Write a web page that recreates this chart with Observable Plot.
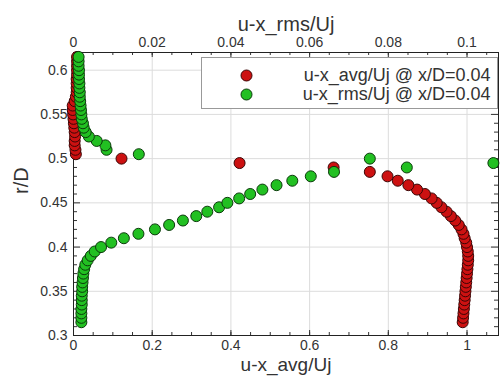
<!DOCTYPE html>
<html>
<head>
<meta charset="utf-8">
<script src="https://cdn.jsdelivr.net/npm/d3@7"></script>
<script src="https://cdn.jsdelivr.net/npm/@observablehq/plot@0.6"></script>
<style>
  html, body { margin: 0; padding: 0; background: #fff; }
  #chart { width: 500px; height: 376px; }
</style>
</head>
<body>
<div id="chart"></div>
<script>
// ---- data ----
const rD = [0.315,0.32,0.325,0.33,0.335,0.34,0.345,0.35,0.355,0.36,0.365,0.37,0.375,0.38,0.385,0.39,0.395,0.40,0.405,0.41,0.415,0.42,0.425,0.43,0.435,0.44,0.445,0.45,0.455,0.46,0.465,0.47,0.475,0.48,0.485,0.49,0.495,0.50,0.505,0.51,0.515,0.52,0.525,0.53,0.535,0.54,0.545,0.55,0.555,0.56,0.565,0.57,0.575,0.58,0.585,0.59,0.595,0.60,0.605,0.61,0.615];
const uxAvg = [0.989,0.990,0.991,0.992,0.993,0.994,0.995,0.996,0.997,0.998,0.999,1.000,1.001,1.002,1.003,1.003,1.002,1.000,0.998,0.994,0.991,0.986,0.979,0.970,0.959,0.948,0.935,0.923,0.910,0.893,0.873,0.851,0.824,0.798,0.753,0.661,0.422,0.122,0.006,0.005,0.003,0.003,0.004,0.003,0.002,0.001,0.000,-0.001,-0.002,-0.002,0.003,0.006,0.008,0.008,0.008,0.008,0.009,0.009,0.009,0.009,0.009];
const uxRms = [0.0020,0.0020,0.0020,0.0020,0.0021,0.0021,0.0021,0.0022,0.0022,0.0023,0.0024,0.0025,0.0027,0.0030,0.0036,0.0044,0.0054,0.0070,0.0096,0.0128,0.0165,0.0207,0.0243,0.0278,0.0312,0.0340,0.0370,0.0391,0.0421,0.0449,0.0480,0.0516,0.0556,0.0603,0.0662,0.0847,0.1067,0.0753,0.0166,0.0084,0.0081,0.0059,0.0039,0.0031,0.0026,0.0024,0.0021,0.0020,0.0019,0.0018,0.0017,0.0016,0.0016,0.0015,0.0015,0.0014,0.0014,0.0014,0.0013,0.0013,0.0013];

const avgTicks = [0, 0.2, 0.4, 0.6, 0.8, 1.0];
const avgMinor = [0,0.05,0.1,0.15,0.2,0.25,0.3,0.35,0.4,0.45,0.5,0.55,0.6,0.65,0.7,0.75,0.8,0.85,0.9,0.95,1.0,1.05];
const rmsTicks = [0, 0.02, 0.04, 0.06, 0.08, 0.1];
const rTicks = [0.3, 0.35, 0.4, 0.45, 0.5, 0.55, 0.6];
const rMinor = [0.31,0.32,0.33,0.34,0.36,0.37,0.38,0.39,0.41,0.42,0.43,0.44,0.46,0.47,0.48,0.49,0.51,0.52,0.53,0.54,0.56,0.57,0.58,0.59,0.61];
const xDomain = [0, 1.08];
const yDomain = [0.3, 0.62];
const rmsScale = 10; // top axis (rms) = bottom axis (avg) / 10

const seriesNames = ["u-x_avg/Uj @ x/D=0.04", "u-x_rms/Uj @ x/D=0.04"];
const seriesFill = ["#cc1111", "#22c022"];
const seriesStroke = ["#3a0505", "#0b3a0b"];
const xTitle = "u-x_avg/Uj";
const x2Title = "u-x_rms/Uj";
const yTitle = "r/D";

// ---- layout ----
const W = 500, H = 376;
const mL = 73, mR = 2, mT = 52, mB = 41;
const pw = W - mL - mR, ph = H - mT - mB;
const majorLen = 5, minorLen = 3;
const fmt = d3.format("~g");

const rows = rD.map((r, i) => ({r, avg: uxAvg[i], rms: uxRms[i]}));

const tickCol = "#333";
const marks = [
  Plot.gridX(avgTicks, {stroke: "#dcdcdc", strokeOpacity: 1}),
  Plot.gridY(rTicks, {stroke: "#dcdcdc", strokeOpacity: 1}),
  // inward ticks
  Plot.tickX(avgMinor, {x: d => d, insetTop: ph - minorLen, stroke: tickCol}),
  Plot.tickX(avgTicks, {x: d => d, insetTop: ph - majorLen, stroke: tickCol}),
  Plot.tickX(avgMinor, {x: d => d, insetBottom: ph - minorLen, stroke: tickCol}),
  Plot.tickX(avgTicks, {x: d => d, insetBottom: ph - majorLen, stroke: tickCol}),
  Plot.tickY(rMinor, {y: d => d, insetRight: pw - minorLen - 1, stroke: tickCol}),
  Plot.tickY(rTicks, {y: d => d, insetRight: pw - majorLen - 2, stroke: tickCol}),
  Plot.tickY(rMinor, {y: d => d, insetLeft: pw - minorLen - 1, stroke: tickCol}),
  Plot.tickY(rTicks, {y: d => d, insetLeft: pw - majorLen - 2, stroke: tickCol}),
  Plot.frame({stroke: "#222"}),
  // axes labels
  Plot.axisX(avgTicks, {anchor: "bottom", tickSize: 0, tickPadding: 5, tickFormat: fmt, fontSize: 14, fill: "#333", label: null}),
  Plot.axisX(rmsTicks.map(v => v * rmsScale), {anchor: "top", tickSize: 0, tickPadding: 6, tickFormat: d => fmt(d / rmsScale), fontSize: 14, fill: "#333", label: null}),
  Plot.axisY(rTicks, {anchor: "left", tickSize: 0, tickPadding: 6, tickFormat: fmt, fontSize: 14, fill: "#333", label: null}),
  // series
  Plot.dot(rows, {x: "avg", y: "r", r: 5.5, fill: seriesFill[0], stroke: seriesStroke[0], strokeWidth: 1}),
  Plot.dot(rows, {x: d => d.rms * rmsScale, y: "r", r: 5.5, fill: seriesFill[1], stroke: seriesStroke[1], strokeWidth: 1}),
  // legend box
  Plot.frame({fill: "white", stroke: "#999", insetLeft: 128, insetTop: 5, insetRight: 1, insetBottom: ph - 56}),
  ...seriesNames.flatMap((name, i) => [
    Plot.dot([name], {frameAnchor: "top-left", dx: 173, dy: 23 + i * 19, r: 5.5, fill: seriesFill[i], stroke: seriesStroke[i], strokeWidth: 1}),
    Plot.text([name], {frameAnchor: "top-right", dx: -8, dy: 23 + i * 19, text: d => d, textAnchor: "end", lineAnchor: "middle", fontSize: 18, fill: "#333"})
  ]),
  // axis titles
  Plot.text([xTitle], {frameAnchor: "bottom", dy: 35, text: d => d, fontSize: 19, fill: "#333", lineAnchor: "bottom"}),
  Plot.text([x2Title], {frameAnchor: "top", dy: -22, text: d => d, fontSize: 20, fill: "#333", lineAnchor: "bottom"}),
  Plot.text([yTitle], {frameAnchor: "left", dx: -52, dy: 0, text: d => d, rotate: -90, fontSize: 20, fill: "#333"})
];

const chart = Plot.plot({
  width: W, height: H,
  marginLeft: mL, marginRight: mR, marginTop: mT, marginBottom: mB,
  x: {domain: xDomain, axis: null},
  y: {domain: yDomain, axis: null},
  style: {fontFamily: "Arial, 'Liberation Sans', Helvetica, sans-serif", background: "white", overflow: "visible"},
  marks
});
document.getElementById("chart").append(chart);
</script>
</body>
</html>
